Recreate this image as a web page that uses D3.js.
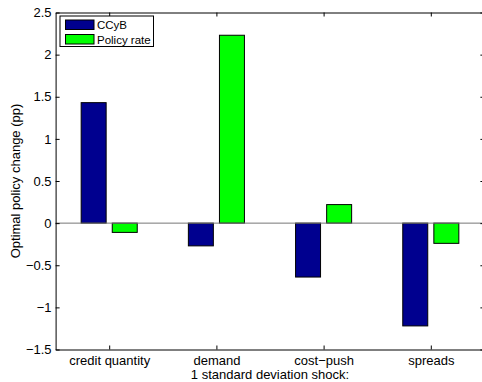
<!DOCTYPE html>
<html>
<head>
<meta charset="utf-8">
<script src="https://cdn.jsdelivr.net/npm/d3@7"></script>
<style>
  html, body { margin: 0; padding: 0; background: #fff; }
  svg { display: block; }
  text { font-family: "Liberation Sans", Arial, Helvetica, sans-serif; }
</style>
</head>
<body>
<svg id="chart" width="482" height="382"></svg>
<script>
const categories = ["credit quantity", "demand", "cost\u2212push", "spreads"];
const seriesNames = ["CCyB", "Policy rate"];
const ccyb = [1.43, -0.27, -0.64, -1.22];
const policyRate = [-0.11, 2.23, 0.22, -0.24];
const yTicks = [-1.5, -1, -0.5, 0, 0.5, 1, 1.5, 2, 2.5];
const colors = ["#00008f", "#00ff00"];
const xLabel = "1 standard deviation shock:";
const yLabel = "Optimal policy change (pp)";

const series = [ccyb, policyRate];
const svg = d3.select("#chart");
const L = 55.6, R = 484.4, T = 12.5, B = 349.5;

const x = d3.scaleLinear().domain([0.5, categories.length + 0.5]).range([L, R]);
const y = d3.scaleLinear().domain([-1.5, 2.5]).range([B, T]);
const unit = x(1) - x(0);
const barW = unit * 0.233;
const offs = [-0.145, 0.145];

const fmt = d => (d < 0 ? "\u2212" : "") + String(Math.abs(d));

// bars
series.forEach((vals, s) => {
  svg.append("g").selectAll("rect").data(vals).join("rect")
    .attr("x", (d, i) => x(i + 1 + offs[s]) - barW / 2)
    .attr("width", barW)
    .attr("y", d => y(Math.max(0, d)))
    .attr("height", d => Math.abs(y(d) - y(0)))
    .attr("fill", colors[s])
    .attr("stroke", "#000")
    .attr("stroke-width", 1);
});

// baseline
svg.append("line")
  .attr("x1", L).attr("x2", R)
  .attr("y1", y(0)).attr("y2", y(0))
  .attr("stroke", "#777").attr("stroke-width", 1);

// axes
const tickIdx = d3.range(1, categories.length + 1);
const leftAxis = d3.axisLeft(y).tickValues(yTicks).tickSizeInner(-4).tickSizeOuter(0).tickPadding(4).tickFormat(fmt);
const rightAxis = d3.axisRight(y).tickValues(yTicks).tickSizeInner(-4).tickSizeOuter(0).tickFormat("");
const bottomAxis = d3.axisBottom(x).tickValues(tickIdx).tickSizeInner(-4).tickSizeOuter(0).tickPadding(6).tickFormat((d) => categories[d - 1]);
const topAxis = d3.axisTop(x).tickValues(tickIdx).tickSizeInner(-4).tickSizeOuter(0).tickFormat("");

function style(g) {
  g.select(".domain").attr("stroke", "#000").attr("stroke-width", 1);
  g.selectAll(".tick line").attr("stroke", "#000");
  g.selectAll("text").attr("fill", "#000").style("font-size", "13px")
    .style("font-family", "'Liberation Sans', Arial, sans-serif");
}
svg.append("g").attr("transform", `translate(${L},0)`).call(leftAxis).call(style);
svg.append("g").attr("transform", `translate(${R},0)`).call(rightAxis).call(style);
svg.append("g").attr("transform", `translate(0,${B})`).call(bottomAxis).call(style);
svg.append("g").attr("transform", `translate(0,${T})`).call(topAxis).call(style);

// axis labels
svg.append("text")
  .attr("x", x(2.5)).attr("y", 378.5)
  .attr("text-anchor", "middle").style("font-size", "13px")
  .text(xLabel);
svg.append("text")
  .attr("transform", `translate(19.5,${(T + B) / 2}) rotate(-90)`)
  .attr("text-anchor", "middle").style("font-size", "13px")
  .text(yLabel);

// legend
const lg = svg.append("g");
lg.append("rect").attr("x", 60).attr("y", 16).attr("width", 93.5).attr("height", 30.5)
  .attr("fill", "#fff").attr("stroke", "#000").attr("stroke-width", 1);
seriesNames.forEach((n, i) => {
  lg.append("rect").attr("x", 65.5).attr("y", 20 + i * 14.5).attr("width", 28.5).attr("height", 9.5)
    .attr("fill", colors[i]).attr("stroke", "#000").attr("stroke-width", 1);
  lg.append("text").attr("x", 97).attr("y", 29 + i * 14.5).style("font-size", "11.5px").text(n);
});
</script>
</body>
</html>
